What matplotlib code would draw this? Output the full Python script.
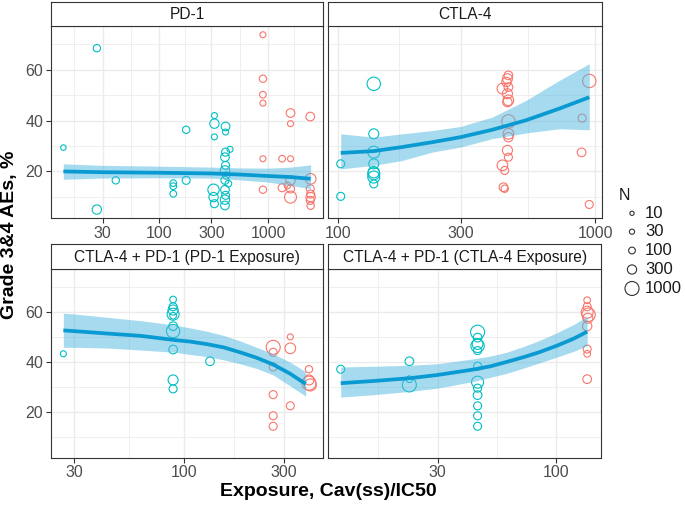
import numpy as np
import matplotlib
matplotlib.use('Agg')
import matplotlib.pyplot as plt

plt.rcParams['font.family'] = ['Liberation Sans', 'DejaVu Sans']

TEAL = '#00BFC4'
RED = '#F8766D'
LINE_C = '#0A9AD2'
RIB_C = '#4FB8E0'
BORDER = '#333333'
TICK_C = '#4D4D4D'

# ---------------- PD-1 ----------------
pd1_teal_x = [13.1, 26.6, 26.6, 39.7, 134, 134, 134, 176, 176, 320, 320, 320, 405, 405, 445, 405, 400,
              405, 400, 410, 400, 430, 314, 400, 405, 314, 400, 400, 320]
pd1_teal_y = [29.4, 68.5, 5.0, 16.5, 15.4, 14.2, 11.2, 36.4, 16.5, 42.0, 38.8, 33.6, 37.7, 35.5, 28.7, 27.6, 25.6,
              22.4, 20.4, 18.4, 16.5, 15.2, 12.8, 12.8, 10.6, 9.9, 8.9, 6.6, 7.3]
pd1_teal_n = [40, 137, 312, 137, 96, 96, 96, 137, 188, 61, 312, 61, 246, 61, 61, 188, 246,
              188, 312, 137, 188, 96, 559, 246, 188, 312, 312, 246, 188]
pd1_red_x = [893, 893, 893, 893, 893, 893, 1600, 1600, 1340, 1600, 2430, 1340, 1600, 1600, 1600, 1500,
             2450, 2430, 2450, 2450, 2430, 2450]
pd1_red_y = [73.8, 56.5, 50.2, 46.9, 25.0, 12.8, 43.0, 38.8, 25.0, 25.0, 41.6, 13.6, 16.5, 13.1, 9.9, 14.5,
             17.1, 13.2, 11.1, 9.9, 8.6, 6.5]
pd1_red_n = [61, 137, 96, 61, 61, 137, 246, 61, 96, 61, 246, 188, 312, 188, 658, 96,
             469, 188, 188, 312, 188, 137]
pd1_fit_x = [13.1, 30, 95, 300, 540, 1000, 1600, 2450]
pd1_fit_y = [20.0, 19.7, 19.5, 19.2, 18.8, 18.2, 17.8, 17.1]
pd1_fit_lo = [16.9, 17.4, 17.5, 17.4, 16.7, 15.8, 14.5, 13.2]
pd1_fit_hi = [23.0, 22.4, 22.1, 21.7, 21.4, 21.3, 21.7, 22.6]

# ---------------- CTLA-4 ----------------
ctla_teal_x = [102.7, 102.7, 138, 138, 138, 138, 138, 138, 138, 138]
ctla_teal_y = [23.0, 10.2, 54.5, 34.8, 27.6, 23.0, 19.7, 19.1, 17.8, 15.1]
ctla_teal_n = [188, 188, 878, 386, 658, 386, 559, 658, 658, 188]
ctla_red_x = [456, 460, 452, 436, 460, 456, 460, 456, 460, 460, 460, 456, 460, 436, 445, 440, 445,
              889, 885, 948, 948]
ctla_red_y = [56.5, 57.8, 55.2, 52.6, 53.2, 50.6, 48.0, 47.3, 39.7, 34.8, 33.5, 28.3, 25.6, 22.4, 20.4,
              13.8, 13.2, 41.0, 27.5, 55.6, 7.0]
ctla_red_n = [386, 246, 312, 469, 246, 386, 469, 312, 878, 469, 312, 386, 188, 469, 188, 246, 137,
              188, 246, 878, 188]
ctla_fit_x = [102.7, 137.8, 177.7, 232.5, 300, 398, 537, 724, 948]
ctla_fit_y = [27.3, 28.0, 29.6, 31.5, 33.5, 36.4, 40.1, 44.7, 49.2]
ctla_fit_lo = [21.0, 22.4, 24.3, 27.6, 29.6, 32.9, 35.1, 36.8, 36.4]
ctla_fit_hi = [34.8, 33.5, 34.8, 36.1, 37.7, 41.4, 47.9, 55.8, 62.4]

# ------- CTLA-4 + PD-1 (PD-1 Exposure) -------
combo_pd1_teal_x = [26.6, 88.7, 88.7, 88.7, 88.7, 88.7, 88.7, 88.7, 88.7, 88.7, 88.7, 133]
combo_pd1_teal_y = [43.3, 65.1, 62.2, 60.9, 59.2, 58.6, 54.4, 52.4, 45.0, 32.8, 29.2, 40.3]
combo_pd1_teal_n = [61, 96, 188, 386, 658, 96, 246, 878, 246, 386, 188, 246]
combo_pd1_red_x = [266, 266, 266, 266, 266, 266, 321, 321, 321, 394, 394, 394, 400]
combo_pd1_red_y = [45.9, 43.9, 38.0, 26.9, 18.4, 14.2, 50.1, 45.5, 22.4, 37.1, 32.8, 31.5, 30.8]
combo_pd1_red_n = [1000, 188, 188, 188, 188, 188, 61, 469, 188, 137, 386, 1000, 658]
combo_pd1_fit_x = [26.6, 30, 43.7, 62.2, 90.8, 107, 128, 154, 185, 222, 266, 319, 380]
combo_pd1_fit_y = [52.7, 52.4, 51.4, 50.5, 48.8, 48.2, 47.2, 45.9, 43.9, 41.7, 39.0, 35.4, 31.2]
combo_pd1_fit_lo = [45.9, 45.9, 45.6, 44.8, 43.9, 43.0, 42.2, 40.9, 39.3, 37.4, 34.8, 30.5, 26.3]
combo_pd1_fit_hi = [59.6, 59.3, 57.9, 56.6, 54.8, 53.7, 52.4, 50.7, 48.5, 45.9, 43.3, 40.0, 36.1]

# ------- CTLA-4 + PD-1 (CTLA-4 Exposure) -------
combo_ctla_teal_x = [11.2, 22.5, 22.5, 22.5, 45.0, 45.0, 45.0, 45.0, 45.0, 45.0, 45.0, 45.0, 45.0, 45.0,
                     45.0, 45.0]
combo_ctla_teal_y = [37.1, 40.3, 33.1, 30.8, 52.0, 49.8, 47.2, 46.5, 44.6, 38.3, 31.9, 29.5, 26.7, 22.4,
                     18.4, 14.2]
combo_ctla_teal_n = [188, 246, 96, 1000, 1000, 246, 469, 878, 188, 188, 658, 188, 246, 188, 188, 188]
combo_ctla_red_x = [137, 137, 137, 139, 138, 137, 137, 137, 137]
combo_ctla_red_y = [64.8, 62.2, 60.0, 59.0, 57.6, 54.4, 45.2, 43.3, 33.1]
combo_ctla_red_n = [96, 188, 658, 878, 386, 312, 188, 96, 246]
combo_ctla_fit_x = [11.2, 15.8, 22.6, 30, 43.3, 51.4, 60.3, 72.1, 84, 101, 119.6, 137]
combo_ctla_fit_y = [31.5, 32.4, 33.5, 34.8, 37.0, 38.3, 40.0, 42.0, 43.9, 46.6, 49.4, 52.2]
combo_ctla_fit_lo = [25.9, 26.9, 28.2, 29.5, 32.2, 33.9, 35.4, 37.6, 39.6, 42.0, 44.3, 46.5]
combo_ctla_fit_hi = [38.0, 38.3, 38.7, 39.3, 41.3, 42.4, 43.9, 46.3, 48.6, 51.8, 55.1, 58.3]

panel_titles = ['PD-1', 'CTLA-4', 'CTLA-4 + PD-1 (PD-1 Exposure)', 'CTLA-4 + PD-1 (CTLA-4 Exposure)']
panel_xticks = [[30, 100, 300, 1000], [100, 300, 1000], [30, 100, 300], [30, 100]]
y_ticks = [20, 40, 60]
y_minor = [10, 30, 50, 70]
legend_n = [10, 30, 100, 300, 1000]
legend_title = 'N'
x_label = 'Exposure, Cav(ss)/IC50'
y_label = 'Grade 3&4 AEs, %'

panels = [
    (pd1_teal_x, pd1_teal_y, pd1_teal_n, pd1_red_x, pd1_red_y, pd1_red_n,
     pd1_fit_x, pd1_fit_y, pd1_fit_lo, pd1_fit_hi),
    (ctla_teal_x, ctla_teal_y, ctla_teal_n, ctla_red_x, ctla_red_y, ctla_red_n,
     ctla_fit_x, ctla_fit_y, ctla_fit_lo, ctla_fit_hi),
    (combo_pd1_teal_x, combo_pd1_teal_y, combo_pd1_teal_n, combo_pd1_red_x, combo_pd1_red_y, combo_pd1_red_n,
     combo_pd1_fit_x, combo_pd1_fit_y, combo_pd1_fit_lo, combo_pd1_fit_hi),
    (combo_ctla_teal_x, combo_ctla_teal_y, combo_ctla_teal_n, combo_ctla_red_x, combo_ctla_red_y, combo_ctla_red_n,
     combo_ctla_fit_x, combo_ctla_fit_y, combo_ctla_fit_lo, combo_ctla_fit_hi),
]

W, H = 685, 508
fig = plt.figure(figsize=(W / 100, H / 100), dpi=100)


def box(x0, y0, x1, y1):
    return [x0 / W, 1 - y1 / H, (x1 - x0) / W, (y1 - y0) / H]


def size_pts(n):
    n = np.asarray(n, dtype=float)
    d_px = 3.5 + 10.5 * np.sqrt(np.clip((n - 5) / 995, 0, 1))
    return (d_px * 0.72) ** 2


# panel pixel boxes: (x0, x1, strip_top, plot_top, plot_bottom)
boxes = [
    (51, 323, 1.7, 26, 218.3),
    (328.3, 601.7, 1.7, 26, 218.3),
    (51, 322.7, 244.3, 269.3, 457.7),
    (328.3, 601, 244.3, 269.3, 457.7),
]

all_y = []
for p in panels:
    all_y += list(p[1]) + list(p[4])
ymin, ymax = min(all_y), max(all_y)
yr = ymax - ymin
ylim = (ymin - 0.05 * yr, ymax + 0.05 * yr)

for i, (p, b) in enumerate(zip(panels, boxes)):
    tx, ty, tn, rx, ry, rn, fx, fy, flo, fhi = p
    x0, x1, st, pt, pb = b
    ax = fig.add_axes(box(x0, pt, x1, pb))
    lx = np.log10(list(tx) + list(rx) + list(fx))
    lr = lx.max() - lx.min()
    ax.set_xscale('log')
    ax.set_xlim(10 ** (lx.min() - 0.05 * lr), 10 ** (lx.max() + 0.05 * lr))
    ax.set_ylim(*ylim)
    ax.set_facecolor('white')

    # grid
    ticks = panel_xticks[i]
    ext = [ticks[0] / (10 / 3 if str(ticks[0]).startswith('3') else 3)] + ticks + \
          [ticks[-1] * (10 / 3 if str(ticks[-1]).startswith('3') else 3)]
    minors = [np.sqrt(a * c) for a, c in zip(ext[:-1], ext[1:])]
    for m in minors:
        ax.axvline(m, color='#EBEBEB', lw=0.55, zorder=0)
    for t in ticks:
        ax.axvline(t, color='#EBEBEB', lw=1.0, zorder=0)
    for m in y_minor:
        ax.axhline(m, color='#EBEBEB', lw=0.55, zorder=0)
    for t in y_ticks:
        ax.axhline(t, color='#EBEBEB', lw=1.0, zorder=0)

    ax.scatter(tx, ty, s=size_pts(tn), facecolors='none', edgecolors=TEAL, linewidths=0.8, zorder=2)
    ax.scatter(rx, ry, s=size_pts(rn), facecolors='none', edgecolors=RED, linewidths=0.8, zorder=2)
    ax.fill_between(fx, flo, fhi, color=RIB_C, alpha=0.5, lw=0, zorder=3)
    ax.plot(fx, fy, color=LINE_C, lw=2.7, zorder=4, solid_capstyle='butt', solid_joinstyle='round')

    ax.set_xticks(ticks)
    ax.set_xticklabels([str(t) for t in ticks])
    ax.xaxis.set_minor_locator(matplotlib.ticker.NullLocator())
    ax.set_yticks(y_ticks)
    if i % 2 == 0:
        ax.set_yticklabels([str(t) for t in y_ticks])
    else:
        ax.set_yticklabels([])
    ax.tick_params(axis='both', direction='out', length=3.5, width=0.8, color=BORDER,
                   labelsize=11.5, labelcolor=TICK_C, pad=2)
    if i % 2 == 1:
        ax.tick_params(axis='y', length=0)
    for s in ax.spines.values():
        s.set_color(BORDER)
        s.set_linewidth(0.8)

    sax = fig.add_axes(box(x0, st, x1, pt))
    sax.set_xticks([])
    sax.set_yticks([])
    sax.set_facecolor('white')
    for s in sax.spines.values():
        s.set_color(BORDER)
        s.set_linewidth(0.8)
    sax.text(0.5, 0.47, panel_titles[i], ha='center', va='center', fontsize=11.2, color='#1A1A1A',
             transform=sax.transAxes)

fig.text(328 / W, 1 - 492 / H, x_label, ha='center', va='center', fontsize=14, fontweight='bold')
fig.text(10 / W, 1 - 235 / H, y_label, ha='center', va='center', rotation=90, fontsize=14,
         fontweight='bold')

# legend
lax = fig.add_axes([0, 0, 1, 1])
lax.set_xlim(0, W)
lax.set_ylim(H, 0)
lax.axis('off')
lax.patch.set_alpha(0)
lax.text(619, 195, legend_title, ha='left', va='center', fontsize=11.5, color='#1A1A1A')
leg_y = [213.3, 231.7, 250.5, 269.5, 288.5]
lax.scatter([632] * len(legend_n), leg_y, s=size_pts(legend_n), facecolors='none',
            edgecolors='#333333', linewidths=0.8)
for n, yy in zip(legend_n, leg_y):
    lax.text(645, yy, str(n), ha='left', va='center', fontsize=12, color='#1A1A1A')

fig.savefig('out.png', dpi=100)
